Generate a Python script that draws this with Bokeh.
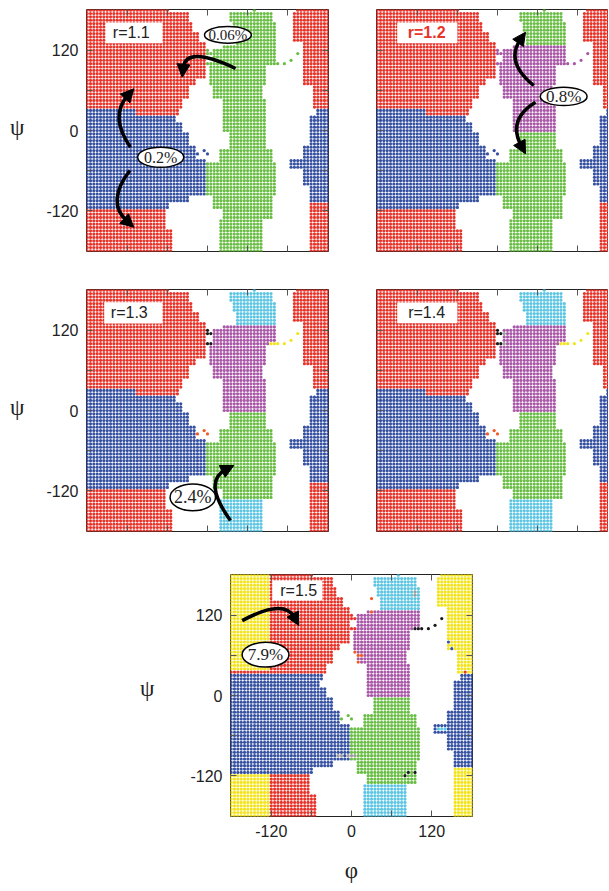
from bokeh.plotting import figure
from bokeh.models import Range1d, LinearAxis, FixedTicker, Label, Arrow, NormalHead, ColumnDataSource
from bokeh.layouts import column, row
from bokeh.embed import file_html
from bokeh.resources import INLINE
import math

# ---------------- data ----------------
# base occupancy map on a 5 degree grid: (psi_top, psi_bottom, "region:phi_from:phi_to ...")
BASE_BANDS = [
    (180, 180, "a:-180:-60 t:70:70 r:135:180"),
    (175, 165, "a:-180:-30 t:35:95 r:130:180"),
    (160, 150, "a:-180:-25 t:40:100 r:130:180"),
    (145, 135, "a:-180:-15 t:45:100 r:130:180"),
    (130, 130, "a:-180:-5 t:45:100 r:145:180"),
    (125, 125, "a:-180:-5 p:25:100 r:145:180"),
    (120, 100, "a:-180:-5 p:10:100 r:145:180"),
    (95, 80, "a:-180:-5 p:5:85 r:145:180"),
    (75, 70, "a:-180:-20 p:5:85 r:145:180"),
    (65, 50, "a:-180:-30 p:10:80 r:160:180"),
    (45, 35, "a:-180:-40 p:25:85 r:160:180"),
    (30, 25, "b:-180:-110 a:-105:-45 p:25:85 v:165:180"),
    (20, 15, "b:-180:-50 p:25:85 v:155:180"),
    (10, 0, "b:-180:-40 p:25:85 v:155:180"),
    (-5, -20, "b:-180:-30 g:35:85 v:155:180"),
    (-25, -25, "b:-180:-20 g:35:85 v:145:180"),
    (-30, -40, "b:-180:-20 g:20:95 v:145:180"),
    (-45, -45, "b:-180:-5 g:20:95 v:125:180"),
    (-50, -55, "b:-180:-5 g:0:100 v:125:180"),
    (-60, -80, "b:-180:-5 g:0:100 v:145:180"),
    (-85, -95, "b:-180:-5 g:0:100 v:155:180"),
    (-100, -105, "b:-180:-30 g:10:95 v:155:180"),
    (-110, -115, "b:-180:-60 g:10:95 s:155:180"),
    (-120, -130, "c:-180:-65 g:25:95 s:155:180"),
    (-135, -145, "c:-180:-65 u:20:80 s:155:180"),
    (-150, -180, "c:-180:-55 u:20:80 s:155:180"),
]
K_PTS = [(0, 120), (0, 115), (5, 115), (0, 100), (5, 100)]
Y_PTS = [(95, 100), (100, 100), (105, 100), (115, 100), (125, 105), (135, 115)]
O_PTS = [(-15, -35), (-5, -30), (0, -35)]

PANELS = ["1.1", "1.2", "1.3", "1.4", "1.5"]
PANEL_COLORS = {
    "1.1": dict(a="R", b="B", c="R", p="G", t="G", g="G", u="G", r="R", s="R", v="B", k="G", y="G", o="B"),
    "1.2": dict(a="R", b="B", c="R", p="P", t="G", g="G", u="G", r="R", s="R", v="B", k="P", y="P", o="B"),
    "1.3": dict(a="R", b="B", c="R", p="P", t="C", g="G", u="C", r="R", s="R", v="B", k="K", y="Y", o="O"),
    "1.4": dict(a="R", b="B", c="R", p="P", t="C", g="G", u="C", r="R", s="R", v="B", k="K", y="Y", o="O"),
    "1.5": dict(a="R", b="B", c="R", p="P", t="C", g="G", u="C", r="Y", s="Y", v="B", k="R", y="K", o="G"),
}
# (color, phi_from, phi_to, psi_from, psi_to, region)
PANEL_RECTS = {
    "1.5": [("Y", -180, -125, 40, 180, "a"), ("Y", -180, -125, -180, -120, "c"),
            ("B", -180, 0, 25, 30, "a")],
}
PANEL_POINTS = {
    "1.4": [("A", 10, 115), ("A", 10, 100)],
    "1.5": [("A", 95, 155), ("A", 95, 150), ("A", -20, -90), ("A", -15, -90), ("A", -5, -90),
            ("A", 0, -90), ("A", 5, -90),
            ("O", 30, 145), ("O", 30, 125), ("O", 5, 65), ("O", 10, 60), ("O", 15, 60), ("O", 10, 50),
            ("K", 80, -120), ("K", 85, -115), ("K", 95, -115),
            ("C", 130, -50), ("C", 135, -50), ("C", 140, -50),
            ("B", 145, 80), ("B", 150, 70), ("R", 170, 35)],
}
COL = {"R": "#e8352c", "B": "#3651a2", "G": "#6abd45", "P": "#a957a7", "C": "#5ec6e2",
       "Y": "#f3e41f", "K": "#1a1a1a", "A": "#9b9b9b", "O": "#f15a24"}

TICKS = [-120, -60, 0, 60, 120]
TICK_LABELS = {-120: "-120", -60: "", 0: "0", 60: "", 120: "120"}

# annotation texts / placement (in phi, psi units)
BOXES = {
    "1.1": (-110, 146, 85, 31, -114, "r=1.1"),
    "1.2": (-105, 146, 90, 31, -106, "r=1.2"),
    "1.3": (-111, 146, 87, 32, -117, "r=1.3"),
    "1.4": (-105, 146, 90, 31, -106, "r=1.4"),
    "1.5": (-81, 157, 75, 30, -79, "r=1.5"),
}
ELLIPSES = [
    ("1.1", 30.5, 143, 70, 25, "0.06%", 15),
    ("1.1", -70, -40, 69, 30, "0.2%", 16),
    ("1.2", 99, 51, 70, 27.5, "0.8%", 17),
    ("1.3", -22, -130, 68, 40, "2.4%", 18),
    ("1.5", -128.6, 61, 70, 37, "7.9%", 17),
]
ARROWS = [
    ("1.1", (42, 92.7), (-15.4, 107.2), (-37.8, 79.7)),
    ("1.1", (-115.2, -25), (-130, 19.9), (-110.2, 62.4)),
    ("1.1", (-116.2, -59.9), (-132.7, -104.7), (-110.2, -144.7)),
    ("1.2", (54.3, 67.3), (29.5, 104.7), (41.9, 147)),
    ("1.2", (56.9, 42.3), (31.9, 10), (41.9, -34.9)),
    ("1.3", (34.4, -164.6), (14.5, -114.8), (39.4, -82.3)),
    ("1.5", (-163.5, 112), (-111, 127), (-78.8, 104.7)),
]
PSI_LABEL = "ψ"
PHI_LABEL = "φ"


def cells_for(name):
    cells = {}
    for hi, lo, segs in BASE_BANDS:
        for psi in range(hi, lo - 1, -5):
            for seg in segs.split():
                reg, a, b = seg.split(":")
                for phi in range(int(a), int(b) + 1, 5):
                    cells[(phi, psi)] = reg
    for pts, reg in ((K_PTS, "k"), (Y_PTS, "y"), (O_PTS, "o")):
        for ph, ps in pts:
            cells[(ph, ps)] = reg
    cmap = PANEL_COLORS[name]
    colors = {key: cmap[reg] for key, reg in cells.items()}
    for c, x0, x1, y0, y1, reg in PANEL_RECTS.get(name, []):
        for (ph, ps), rg in cells.items():
            if rg == reg and x0 <= ph <= x1 and y0 <= ps <= y1:
                colors[(ph, ps)] = c
    for c, ph, ps in PANEL_POINTS.get(name, []):
        colors[(ph, ps)] = c
    keys = sorted(colors)
    return dict(phi=[k[0] for k in keys], psi=[k[1] for k in keys],
                color=[COL[colors[k]] for k in keys])


LO, HI = -181, 181
DEG_PER_PX = 362 / 242


def style_axis(ax, labels):
    ax.ticker = FixedTicker(ticks=TICKS)
    ax.major_label_overrides = TICK_LABELS if labels else {t: "" for t in TICKS}
    ax.major_tick_in = 6
    ax.major_tick_out = 0
    ax.minor_tick_line_color = None
    ax.major_tick_line_color = "#555555"
    ax.axis_line_color = None
    ax.major_label_text_font = "Liberation Sans"
    ax.major_label_text_font_size = "16px" if labels else "0px"
    ax.major_label_text_color = "#222222"
    ax.major_label_standoff = 8 if labels else 0


def greek_axis(p, side, tick, text, standoff):
    ax = LinearAxis(ticker=FixedTicker(ticks=[tick]), major_label_overrides={tick: text})
    ax.major_tick_line_color = None
    ax.minor_tick_line_color = None
    ax.axis_line_color = None
    ax.major_tick_in = 0
    ax.major_tick_out = 0
    ax.major_label_text_font = "Liberation Serif"
    ax.major_label_text_font_size = "23px"
    ax.major_label_text_color = "#222222"
    ax.major_label_standoff = standoff
    p.add_layout(ax, side)


def make_panel(name, fw, borders, xlabels, ylabels, right_axis):
    bl, br, bt, bb = borders
    x_end = LO + fw * DEG_PER_PX
    p = figure(frame_width=fw, frame_height=242, x_range=Range1d(LO, x_end), y_range=Range1d(LO, HI),
               output_backend="svg", toolbar_location=None,
               min_border_left=bl, min_border_right=br, min_border_top=bt, min_border_bottom=bb)
    p.grid.visible = False
    p.outline_line_color = "#222222"
    p.outline_line_width = 1
    p.background_fill_color = "white"
    p.border_fill_color = "white"
    style_axis(p.xaxis[0], xlabels)
    style_axis(p.yaxis[0], ylabels)
    top = LinearAxis()
    style_axis(top, False)
    p.add_layout(top, "above")
    if right_axis:
        rt = LinearAxis()
        style_axis(rt, False)
        p.add_layout(rt, "right")

    src = ColumnDataSource(cells_for(name))
    p.scatter("phi", "psi", source=src, size=3.2, fill_color="color", line_color=None, marker="circle")

    bx, by, bw, bh, tx, txt = BOXES[name]
    p.rect([bx], [by], [bw], [bh], fill_color="white", line_color=None)
    red = name == "1.2"
    p.add_layout(Label(x=tx, y=by, text=txt, text_align="center", text_baseline="middle",
                       text_font="Liberation Sans", text_font_size="16px",
                       text_font_style="bold" if red else "normal",
                       text_color=COL["R"] if red else "#222222"))

    for nm, S, M, E in ARROWS:
        if nm != name:
            continue
        cx = 2 * M[0] - (S[0] + E[0]) / 2
        cy = 2 * M[1] - (S[1] + E[1]) / 2
        dx, dy = E[0] - cx, E[1] - cy
        L = math.hypot(dx, dy)
        ux, uy = dx / L, dy / L
        back = 9 * DEG_PER_PX
        ex, ey = E[0] - back * ux, E[1] - back * uy
        p.quadratic(x0=[S[0]], y0=[S[1]], x1=[ex], y1=[ey], cx=[cx], cy=[cy],
                    line_color="black", line_width=3.5)
        p.add_layout(Arrow(end=NormalHead(size=13, fill_color="black", line_color="black", line_width=1),
                           x_start=ex - 0.5 * ux, y_start=ey - 0.5 * uy, x_end=E[0], y_end=E[1],
                           line_color="black", line_width=1))

    for nm, ex_, ey_, ew, eh, txt, fs in ELLIPSES:
        if nm != name:
            continue
        p.ellipse(x=[ex_], y=[ey_], width=[ew], height=[eh], fill_color="white",
                  line_color="black", line_width=1.5)
        p.add_layout(Label(x=ex_, y=ey_, text=txt, text_align="center", text_baseline="middle",
                           text_font="Liberation Serif", text_font_size=f"{fs}px", text_color="#222222"))
    return p


p1 = make_panel("1.1", 242, (86, 24, 9, 19), False, True, True)
p2 = make_panel("1.2", 232, (24, 0, 9, 19), False, False, False)
p3 = make_panel("1.3", 242, (86, 24, 19, 10), False, True, True)
p4 = make_panel("1.4", 232, (24, 0, 19, 10), False, False, False)
p5 = make_panel("1.5", 242, (230, 20, 33, 70), True, True, True)

greek_axis(p1, "left", 5, PSI_LABEL, 19)
greek_axis(p3, "left", 5, PSI_LABEL, 19)
greek_axis(p5, "left", 10, PSI_LABEL, 33)
greek_axis(p5, "below", 0, PHI_LABEL, 18)

layout = column(row(p1, p2), row(p3, p4), p5)
open("out.html", "w").write(file_html(layout, INLINE))
